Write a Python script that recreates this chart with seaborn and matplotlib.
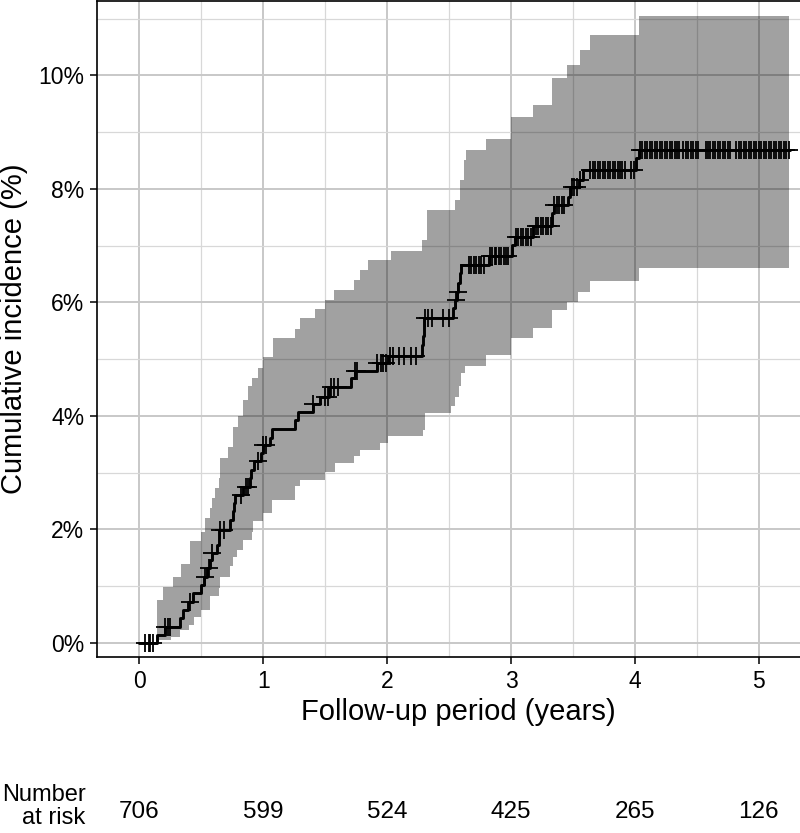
import numpy as np
import pandas as pd
import matplotlib
matplotlib.use("Agg")
import matplotlib.pyplot as plt
import matplotlib.transforms as mtransforms
from matplotlib.ticker import FuncFormatter, MultipleLocator
import seaborn as sns

# cumulative incidence (%) step curve: event times and value after each event
event_time = [0.0, 0.14, 0.207, 0.33, 0.355, 0.39, 0.43, 0.50, 0.525, 0.55, 0.575, 0.59,
              0.63, 0.64, 0.645, 0.73, 0.755, 0.765, 0.775, 0.835, 0.89, 0.905, 0.93, 0.985,
              1.0, 1.055, 1.07, 1.257, 1.28, 1.40, 1.46, 1.53, 1.71, 1.74, 1.92, 2.01, 2.28,
              2.29, 2.30, 2.535, 2.55, 2.565, 2.575, 2.585, 2.60, 2.82, 3.005, 3.03, 3.18,
              3.33, 3.345, 3.46, 3.48, 3.55, 3.58, 4.01, 4.03]
event_cuminc = [0.0, 0.14, 0.29, 0.44, 0.58, 0.73, 0.88, 1.02, 1.17, 1.32, 1.46, 1.58,
                1.73, 1.86, 1.99, 2.17, 2.32, 2.46, 2.60, 2.75, 2.90, 3.05, 3.20, 3.35,
                3.49, 3.61, 3.77, 3.93, 4.07, 4.21, 4.34, 4.51, 4.66, 4.80, 4.93, 5.06, 5.25,
                5.41, 5.72, 5.90, 6.04, 6.19, 6.35, 6.51, 6.66, 6.81, 7.01, 7.16, 7.34,
                7.58, 7.72, 7.86, 8.04, 8.16, 8.34, 8.54, 8.68]
last_time = 5.25

# confidence band, upper and lower bounds as steps
upper_time = [0.14, 0.195, 0.275, 0.34, 0.41, 0.50, 0.53, 0.57, 0.585, 0.61, 0.64, 0.65,
              0.72, 0.76, 0.80, 0.84, 0.88, 0.91, 0.96, 1.0, 1.08, 1.26, 1.30, 1.42, 1.50,
              1.57, 1.73, 1.78, 1.85, 2.03, 2.28, 2.32, 2.55, 2.59, 2.62, 2.64, 2.80, 3.0,
              3.18, 3.33, 3.45, 3.56, 3.64, 4.03]
upper_val = [0.76, 0.99, 1.17, 1.40, 1.79, 1.96, 2.20, 2.37, 2.55, 2.73, 2.90, 3.26,
             3.46, 3.81, 3.99, 4.28, 4.52, 4.66, 4.85, 5.03, 5.37, 5.53, 5.72, 5.88, 6.05,
             6.22, 6.40, 6.57, 6.75, 6.91, 7.10, 7.63, 7.81, 8.16, 8.51, 8.69, 8.88, 9.27,
             9.48, 9.95, 10.19, 10.45, 10.71, 11.05]
lower_time = [0.14, 0.26, 0.33, 0.40, 0.44, 0.50, 0.57, 0.64, 0.65, 0.73, 0.76, 0.79,
              0.84, 0.91, 0.92, 1.0, 1.07, 1.26, 1.30, 1.50, 1.58, 1.73, 1.78, 1.94, 2.01,
              2.29, 2.31, 2.52, 2.55, 2.58, 2.60, 2.63, 2.80, 3.0, 3.18, 3.33, 3.45, 3.54,
              3.64, 4.03]
lower_val = [0.05, 0.11, 0.23, 0.32, 0.46, 0.58, 0.82, 0.96, 1.17, 1.35, 1.52, 1.64,
             1.81, 1.96, 2.14, 2.29, 2.52, 2.76, 2.87, 3.02, 3.17, 3.29, 3.40, 3.52, 3.64,
             3.75, 4.05, 4.17, 4.34, 4.52, 4.75, 4.88, 5.07, 5.37, 5.55, 5.87, 6.01, 6.19,
             6.37, 6.61]

# censoring times
censor_time = [0.05, 0.075, 0.09, 0.11, 0.21, 0.23, 0.25, 0.41, 0.53, 0.56, 0.59, 0.65,
               0.68, 0.82, 0.86, 0.88, 0.96, 1.00, 1.02, 1.405, 1.50, 1.52, 1.55, 1.57,
               1.60, 1.74, 1.76, 1.92, 1.95, 1.97, 1.99, 2.02, 2.05, 2.10, 2.14, 2.19, 2.23,
               2.31, 2.33, 2.36, 2.45, 2.50, 2.555, 2.57,
               2.66, 2.68, 2.70, 2.72, 2.74, 2.76, 2.78, 2.83, 2.85, 2.87, 2.88, 2.90, 2.92,
               2.94, 2.96, 2.98, 3.04, 3.06, 3.08, 3.10, 3.12, 3.14, 3.16, 3.20, 3.22, 3.24,
               3.26, 3.28, 3.30, 3.32, 3.35, 3.37, 3.39, 3.41, 3.43, 3.49, 3.51, 3.53, 3.56,
               3.64, 3.66, 3.68, 3.70, 3.72, 3.74, 3.76, 3.78, 3.80, 3.82, 3.84, 3.86, 3.88,
               3.90, 3.92, 3.97, 3.99,
               4.04, 4.06, 4.08, 4.10, 4.12, 4.14, 4.16, 4.18, 4.20, 4.22, 4.24, 4.26, 4.28,
               4.30, 4.32, 4.34, 4.36, 4.39, 4.41, 4.43, 4.45, 4.47, 4.49, 4.51, 4.57, 4.59,
               4.61, 4.63, 4.65, 4.67, 4.69, 4.71, 4.73, 4.75, 4.77, 4.82, 4.84, 4.86, 4.88,
               4.90, 4.92, 4.94, 4.96, 4.98, 5.00, 5.02, 5.04, 5.06, 5.08, 5.10, 5.12, 5.14,
               5.16, 5.18, 5.20, 5.22, 5.245]

risk_time = [0, 1, 2, 3, 4, 5]
risk_n = [706, 599, 524, 425, 265, 126]


def step_lookup(times, values, t):
    idx = np.searchsorted(np.asarray(times), np.asarray(t), side="right") - 1
    return np.asarray(values)[np.clip(idx, 0, None)]


curve = pd.DataFrame({"time": event_time + [last_time],
                      "cuminc": event_cuminc + [event_cuminc[-1]]})
censor = pd.DataFrame({"time": censor_time})
censor["cuminc"] = step_lookup(event_time, event_cuminc, censor["time"])

band_t = np.union1d(upper_time, lower_time)
band_t = np.append(band_t, last_time - 0.005)
band_hi = step_lookup(upper_time, upper_val, band_t)
band_lo = step_lookup(lower_time, lower_val, band_t)

sns.set_theme(style="white")
plt.rcParams["font.family"] = ["Liberation Sans", "DejaVu Sans"]

fig = plt.figure(figsize=(8, 8.33), dpi=100)
ax = fig.add_axes([97 / 800, 0.2113, 723 / 800, 0.7875])

ax.set_axisbelow(True)
ax.grid(which="major", color="#c8c8c8", lw=1.4)
ax.grid(which="minor", color="#d8d8d8", lw=0.9)

ax.fill_between(band_t, band_lo, band_hi, step="post", color="black", alpha=0.37,
                lw=0, zorder=1)
sns.lineplot(data=curve, x="time", y="cuminc", drawstyle="steps-post", color="black",
             lw=2.1, ax=ax, zorder=3)
sns.scatterplot(data=censor, x="time", y="cuminc", marker="+", s=180, color="black",
                linewidth=1.3, ax=ax, zorder=4)

ax.set_xlim(-0.341, 5.494)
ax.set_ylim(-0.247, 11.31)
ax.xaxis.set_major_locator(MultipleLocator(1))
ax.xaxis.set_minor_locator(MultipleLocator(0.5))
ax.yaxis.set_major_locator(MultipleLocator(2))
ax.yaxis.set_minor_locator(MultipleLocator(1))
ax.yaxis.set_major_formatter(FuncFormatter(lambda v, p: f"{v:.0f}%"))

for sp in ax.spines.values():
    sp.set_color("black")
    sp.set_linewidth(1.2)
ax.tick_params(which="major", direction="out", length=5.2, width=1.1, color="black",
               labelsize=16.5, labelcolor="black", pad=4, left=True, bottom=True)
ax.tick_params(which="minor", length=0)

ax.set_xlabel("Follow-up period (years)", fontsize=21, color="black")
ax.set_ylabel("Cumulative incidence (%)", fontsize=21, color="black")
ax.xaxis.set_label_coords(0.5, -0.062)
ax.yaxis.set_label_coords(-0.095, 0.5)

trans = mtransforms.blended_transform_factory(ax.transData, fig.transFigure)
for t, n in zip(risk_time, risk_n):
    ax.text(t, 0.0252, str(n), transform=trans, ha="center", va="center", fontsize=17.5,
            color="black")
fig.text(0.107, 0.005, "Number\nat risk", ha="right", va="bottom", fontsize=17,
         color="black", multialignment="right", linespacing=1.05)

fig.savefig("out.png", dpi=100)
